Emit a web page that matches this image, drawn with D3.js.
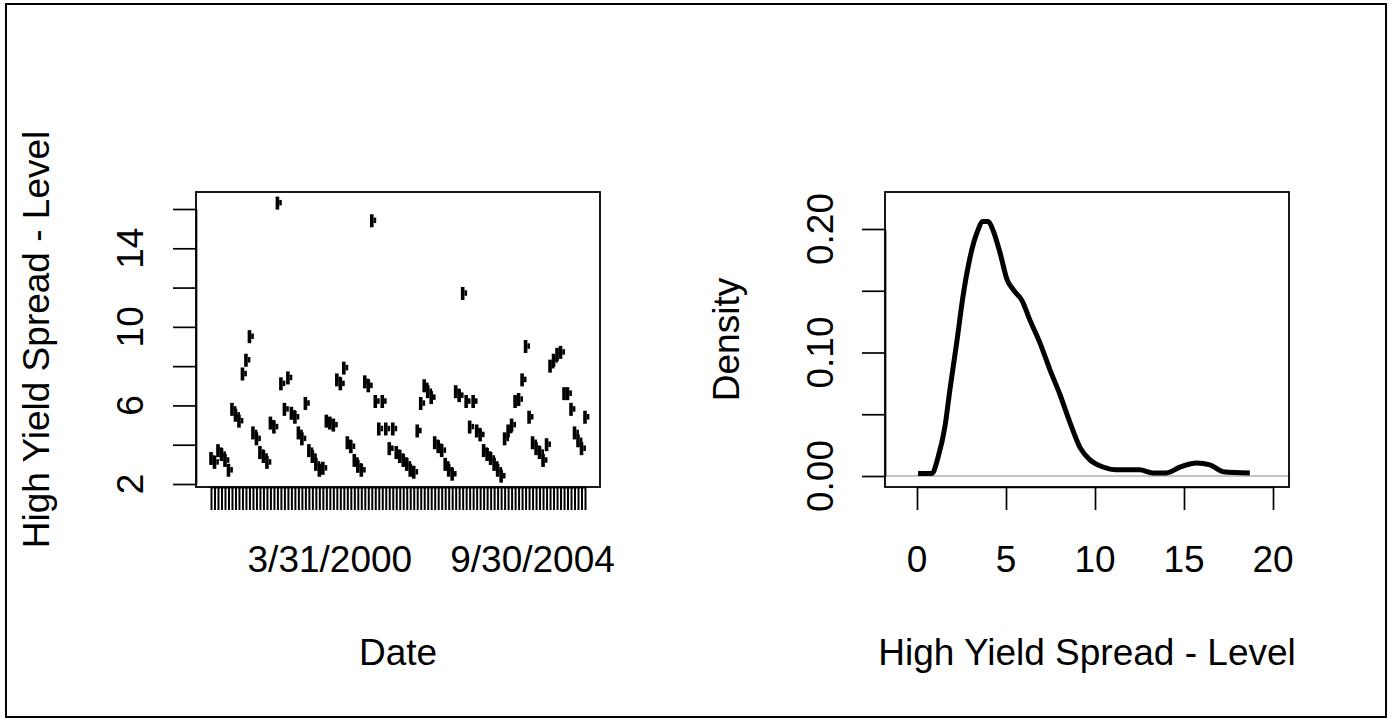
<!DOCTYPE html>
<html><head><meta charset="utf-8">
<script src="https://cdn.jsdelivr.net/npm/d3@7"></script>
<style>
html,body{margin:0;padding:0;background:#fff;}
text{font-family:"Liberation Sans",Arial,sans-serif;fill:#000;}
</style></head>
<body>
<svg id="chart" width="1393" height="720"></svg>
<script>
// ---- Left panel: boxplot of level by Date factor (108 levels) ----
const levelValues = [
  3.3,3.1,3.7,3.5,3.2,2.7,5.8,5.5,5.2,7.6,8.3,9.5,4.6,4.3,3.6,3.4,3.1,5.1,4.9,16.3,
  7.1,5.8,7.4,5.6,5.4,4.6,4.3,6.1,3.7,3.4,3.0,2.7,2.8,5.2,5.1,5.0,7.3,7.1,7.9,4.1,
  3.9,3.2,2.9,2.7,7.2,7.0,15.4,6.2,4.8,6.2,4.8,3.8,4.8,3.6,3.4,3.2,3.0,2.7,2.6,4.7,
  6.1,7.0,6.7,6.4,4.1,3.9,3.7,3.0,2.7,2.5,6.7,6.5,11.7,6.2,4.9,6.2,4.7,4.5,3.7,3.5,
  3.3,3.0,2.7,2.4,4.3,4.7,5.0,6.2,6.3,7.3,9.0,5.4,4.1,3.8,3.6,3.2,4.0,8.0,8.3,8.6,
  8.7,6.6,6.6,5.8,4.6,4.2,3.8,5.4
];
const levelIndex = levelValues.map((d, i) => i + 1);
const dateTickLabels = [
  {level: 35, text: "3/31/2000"},
  {level: 93, text: "9/30/2004"}
];
const leftYTicks = [2, 4, 6, 8, 10, 12, 14, 16];
const leftYLabels = [2, 6, 10, 14];

// ---- Right panel: density estimate ----
const densX = [0.06,0.84,1.18,1.57,1.85,2.25,2.58,2.98,3.37,3.71,4.0,4.27,4.66,5.06,5.4,5.9,6.35,6.9,7.47,8.03,8.6,9.16,9.72,10.45,11.2,12.5,13.25,14.0,14.8,15.7,16.46,17.2,18.7];
const densY = [0.002,0.002,0.015,0.040,0.070,0.110,0.145,0.177,0.197,0.206,0.206,0.199,0.181,0.159,0.151,0.142,0.126,0.108,0.086,0.066,0.043,0.023,0.013,0.0073,0.005,0.005,0.0025,0.0025,0.0073,0.0105,0.009,0.0035,0.0025];
const densXTicks = [0, 5, 10, 15, 20];
const densYTicks = [0, 0.05, 0.10, 0.15, 0.20];
const densYLabels = [0, 0.10, 0.20];

const titleY = "High Yield Spread - Level";
const titleXLeft = "Date";
const titleXRight = "High Yield Spread - Level";
const titleDens = "Density";

const FS = 37;
const svg = d3.select("#chart");

// outer frame
svg.append("rect").attr("x", 6).attr("y", 4).attr("width", 1380).attr("height", 713)
  .attr("fill", "none").attr("stroke", "#000").attr("stroke-width", 2);

function styleAxis(g, w) {
  g.selectAll("path,line").attr("stroke", "#000").attr("stroke-width", w || 1.7);
  g.selectAll("text").remove();
}
function rotText(x, y, txt) {
  svg.append("text").attr("x", x).attr("y", y)
    .attr("transform", `rotate(-90,${x},${y})`)
    .attr("text-anchor", "middle").attr("font-size", FS).text(txt);
}
function hText(x, y, txt) {
  svg.append("text").attr("x", x).attr("y", y)
    .attr("text-anchor", "middle").attr("font-size", FS).text(txt);
}

// ===== Left panel =====
const L = {x0: 196, x1: 600, y0: 192, y1: 487};
const xL = d3.scaleLinear().domain([1, 108]).range([211, 585]);
const yL = d3.scaleLinear().domain([2, 16]).range([484, 209]);

const marks = svg.append("g");
levelValues.forEach((v, i) => {
  const cx = xL(levelIndex[i]), cy = yL(v);
  marks.append("rect").attr("x", cx - 1.8).attr("y", cy - 6.5)
    .attr("width", 3.6).attr("height", 13).attr("fill", "#000");
  marks.append("rect").attr("x", cx + 1.8).attr("y", cy - 3.2)
    .attr("width", 2.6).attr("height", 5.5).attr("fill", "#000");
});

svg.append("g").attr("transform", `translate(0,${L.y1})`)
  .call(d3.axisBottom(xL).tickValues(levelIndex).tickSize(23).tickSizeOuter(0).tickFormat(""))
  .call(g => styleAxis(g, 2));
svg.append("g").attr("transform", `translate(${L.x0},0)`)
  .call(d3.axisLeft(yL).tickValues(leftYTicks).tickSize(23).tickSizeOuter(0).tickFormat(""))
  .call(styleAxis);
svg.append("rect").attr("x", L.x0).attr("y", L.y0).attr("width", L.x1 - L.x0).attr("height", L.y1 - L.y0)
  .attr("fill", "none").attr("stroke", "#000").attr("stroke-width", 1.8);

dateTickLabels.forEach(d => hText(xL(d.level), 572, d.text));
leftYLabels.forEach(v => rotText(143, yL(v), String(v)));
hText((L.x0 + L.x1) / 2, 665, titleXLeft);
rotText(49, (L.y0 + L.y1) / 2, titleY);

// ===== Right panel =====
const R = {x0: 885, x1: 1289, y0: 192, y1: 487};
const xR = d3.scaleLinear().domain([0, 20]).range([917, 1273]);
const yR = d3.scaleLinear().domain([0, 0.2]).range([476, 229]);

svg.append("line").attr("x1", R.x0).attr("x2", R.x1).attr("y1", yR(0)).attr("y2", yR(0))
  .attr("stroke", "#c4c4c4").attr("stroke-width", 2.2);

const line = d3.line().x(d => xR(d[0])).y(d => yR(d[1])).curve(d3.curveMonotoneX);
svg.append("path").datum(densX.map((x, i) => [x, densY[i]]))
  .attr("d", line).attr("fill", "none").attr("stroke", "#000")
  .attr("stroke-width", 5).attr("stroke-linejoin", "round");

svg.append("g").attr("transform", `translate(0,${R.y1})`)
  .call(d3.axisBottom(xR).tickValues(densXTicks).tickSize(23).tickSizeOuter(0).tickFormat(""))
  .call(styleAxis);
svg.append("g").attr("transform", `translate(${R.x0},0)`)
  .call(d3.axisLeft(yR).tickValues(densYTicks).tickSize(23).tickSizeOuter(0).tickFormat(""))
  .call(styleAxis);
svg.append("rect").attr("x", R.x0).attr("y", R.y0).attr("width", R.x1 - R.x0).attr("height", R.y1 - R.y0)
  .attr("fill", "none").attr("stroke", "#000").attr("stroke-width", 1.8);

densXTicks.forEach(v => hText(xR(v), 572, String(v)));
densYLabels.forEach(v => rotText(833, yR(v), d3.format(".2f")(v)));
hText((R.x0 + R.x1) / 2, 665, titleXRight);
rotText(739, (R.y0 + R.y1) / 2, titleDens);
</script>
</body></html>
